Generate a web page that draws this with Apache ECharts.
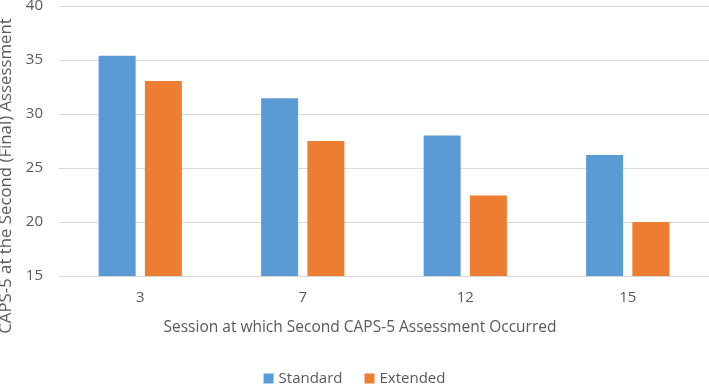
<!DOCTYPE html>
<html>
<head>
<meta charset="utf-8">
<script src="https://cdn.jsdelivr.net/npm/echarts@6/dist/echarts.min.js"></script>
<style>html,body{margin:0;padding:0;background:#fff;}#c{width:709px;height:386px;}</style>
</head>
<body>
<div id="c"></div>
<script>
const categories = ['3', '7', '12', '15'];
const standard = [35.4, 31.45, 28.0, 26.2];
const extended = [33.05, 27.5, 22.45, 20.0];
const yTicks = { min: 15, max: 40, interval: 5 };

const chart = echarts.init(document.getElementById('c'), null, { renderer: 'canvas' });
const font = 'Open Sans';
chart.setOption({
  animation: false,
  textStyle: { fontFamily: font },
  grid: { left: 59, right: 0, top: 6, bottom: 110, containLabel: false, outerBoundsMode: 'none' },
  legend: {
    data: ['Standard', 'Extended'],
    top: 366,
    left: 'center',
    itemWidth: 10, itemHeight: 10, itemGap: 22,
    icon: 'rect',
    textStyle: { color: '#595959', fontSize: 15, fontFamily: font }
  },
  xAxis: {
    type: 'category',
    data: categories,
    name: 'Session at which Second CAPS-5 Assessment Occurred',
    nameLocation: 'middle',
    nameGap: 44,
    nameTextStyle: { color: '#595959', fontSize: 15.5, fontFamily: font, padding: [0, 48, 0, 0] },
    axisLine: { show: true, lineStyle: { color: '#d9d9d9', width: 1 } },
    axisTick: { show: false },
    axisLabel: { color: '#595959', fontSize: 15, margin: 14, fontFamily: font }
  },
  yAxis: {
    type: 'value',
    min: yTicks.min, max: yTicks.max, interval: yTicks.interval,
    name: 'CAPS-5 at the Second (Final) Assessment',
    nameLocation: 'middle',
    nameGap: 38,
    nameTextStyle: { color: '#595959', fontSize: 16.8, fontFamily: font, padding: [0, 70, 0, 0] },
    axisLine: { show: false },
    axisTick: { show: false },
    axisLabel: { color: '#595959', fontSize: 15, margin: 16, fontFamily: font },
    splitLine: { lineStyle: { color: '#d9d9d9', width: 1 } }
  },
  series: [
    { name: 'Standard', type: 'bar', data: standard, barWidth: 37, barGap: '25%',
      itemStyle: { color: '#5B9BD5' } },
    { name: 'Extended', type: 'bar', data: extended, barWidth: 37,
      itemStyle: { color: '#ED7D31' } }
  ]
});
</script>
</body>
</html>
